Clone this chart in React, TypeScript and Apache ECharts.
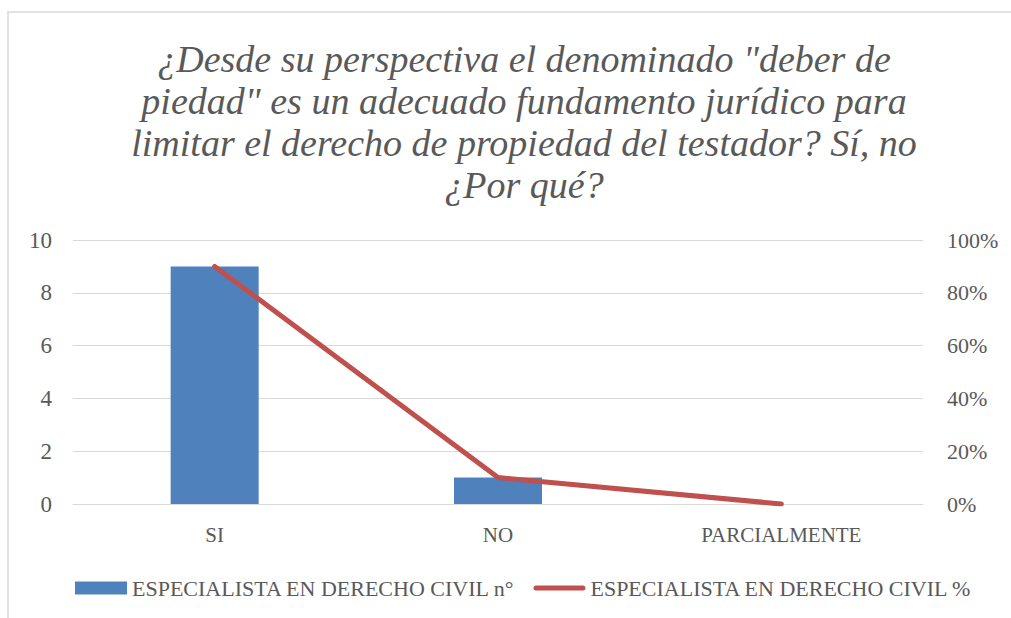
import React, { useEffect, useRef } from "react";
import * as echarts from "echarts";

const titleLines = [
  "¿Desde su perspectiva el denominado \"deber de",
  "piedad\" es un adecuado fundamento jurídico para",
  "limitar el derecho de propiedad del testador? Sí, no",
  "¿Por qué?",
];
const categories = ["SI", "NO", "PARCIALMENTE"];
const countName = "ESPECIALISTA EN DERECHO CIVIL n°";
const pctName = "ESPECIALISTA EN DERECHO CIVIL %";
const countValues = [9, 1, 0];
const pctValues = [90, 10, 0];

const TEXT = "#595959";
const GRID = "#d9d9d9";
const FONT = "'Liberation Serif', 'Times New Roman', serif";

export default function App() {
  const ref = useRef<HTMLDivElement>(null);
  useEffect(() => {
    if (!ref.current) return;
    const chart = echarts.init(ref.current, undefined, { renderer: "svg" });
    chart.setOption({
      animation: false,
      backgroundColor: "#ffffff",
      textStyle: { fontFamily: FONT },
      graphic: [
        {
          type: "rect",
          shape: { x: 8, y: 12, width: 1020, height: 620 },
          style: { fill: "none", stroke: GRID, lineWidth: 1.5 },
          silent: true,
          z: -1,
        },
      ],
      title: {
        text: titleLines.join("\n"),
        left: 519,
        textAlign: "center",
        top: 33,
        textStyle: {
          fontFamily: FONT,
          fontStyle: "italic",
          fontWeight: "normal",
          fontSize: 38,
          lineHeight: 42,
          color: TEXT,
        },
      },
      legend: {
        bottom: 14,
        left: 70,
        itemWidth: 52,
        itemHeight: 13,
        itemGap: 18,
        textStyle: { fontFamily: FONT, fontSize: 22, color: TEXT },
        data: [
          { name: countName, icon: "rect" },
          {
            name: pctName,
            icon: "path://M2.5,0 L49.5,0 A2.5,2.5 0 0 1 49.5,5 L2.5,5 A2.5,2.5 0 0 1 2.5,0 Z",
          },
        ],
      },
      grid: { left: 73, right: 88, top: 240, bottom: 114 },
      xAxis: {
        type: "category",
        data: categories,
        axisTick: { show: false },
        axisLine: { show: true, lineStyle: { color: GRID, width: 1 } },
        axisLabel: { color: TEXT, fontSize: 21, fontFamily: FONT, margin: 20 },
      },
      yAxis: [
        {
          type: "value",
          min: 0,
          max: 10,
          interval: 2,
          axisLine: { show: false },
          axisTick: { show: false },
          splitLine: { lineStyle: { color: GRID, width: 1 } },
          axisLabel: { color: TEXT, fontSize: 23, fontFamily: FONT, margin: 21 },
        },
        {
          type: "value",
          min: 0,
          max: 100,
          interval: 20,
          axisLine: { show: false },
          axisTick: { show: false },
          splitLine: { show: false },
          axisLabel: { color: TEXT, fontSize: 22, fontFamily: FONT, margin: 24, formatter: "{value}%" },
        },
      ],
      series: [
        {
          name: countName,
          type: "bar",
          data: countValues,
          barWidth: 88,
          itemStyle: { color: "#4F81BD" },
          yAxisIndex: 0,
        },
        {
          name: pctName,
          type: "line",
          data: pctValues,
          yAxisIndex: 1,
          symbol: "none",
          lineStyle: { color: "#C0504D", width: 5, cap: "round", join: "round" },
          itemStyle: { color: "#C0504D" },
        },
      ],
    });
    return () => chart.dispose();
  }, []);
  return (
    <div
      ref={ref}
      style={{ position: "absolute", left: 0, top: 0, width: 1011, height: 618 }}
    />
  );
}
